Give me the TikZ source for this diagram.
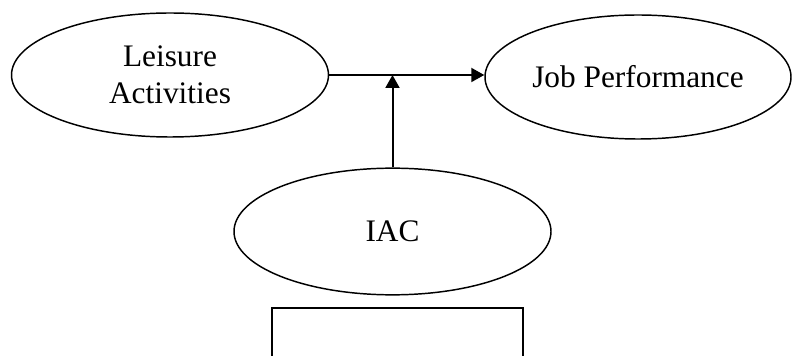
\documentclass[tikz,border=0pt]{standalone}
\usepackage{fontspec}
\setmainfont{Liberation Serif}
\usetikzlibrary{shapes.geometric,arrows.meta}

\tikzset{
  oval/.style={draw, ellipse, line width=1.1pt, inner sep=0pt, align=center,
    font=\fontsize{23.5}{27.75}\selectfont},
  link/.style={line width=1.5pt, -{Triangle[length=9.75pt,width=10.5pt]}}
}

\begin{document}
\begin{tikzpicture}[x=0.75pt,y=0.75pt,yscale=-1,xscale=1]
\useasboundingbox (0,0) rectangle (794,356);

% Ovals
\node (leisure) [oval, minimum width=237.75pt, minimum height=93pt] at (170,75) {Leisure\\Activities};
\node (job) [oval, minimum width=229.5pt, minimum height=93pt] at (638,77) {Job Performance};
\node (iac) [oval, minimum width=237.75pt, minimum height=95pt] at (392.5,231.5) {IAC};

% Empty box
\node (box) [draw, line width=1.1pt, minimum width=188.25pt, minimum height=45pt, inner sep=0pt] at (397.5,338) {};

% Arrows
\coordinate (meet) at (iac.north |- leisure.east);
\draw [link] (leisure.east) -- (leisure.east -| job.west);
\draw [link] (iac.north) -- (meet);

\end{tikzpicture}
\end{document}
